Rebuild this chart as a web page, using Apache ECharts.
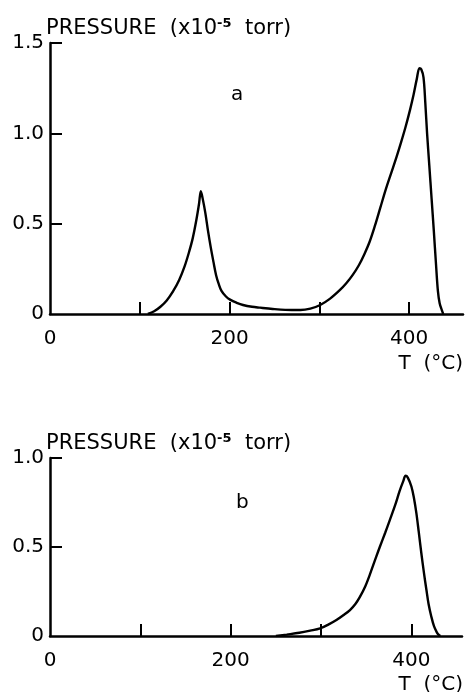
<!DOCTYPE html>
<html><head><meta charset="utf-8">
<script src="https://cdn.jsdelivr.net/npm/echarts@6/dist/echarts.min.js"></script>
<style>html,body{margin:0;padding:0;background:#fff}#c{width:466px;height:692px}</style>
</head><body><div id="c"></div>
<script>
// Panel a
const tempA = [109,116,123,130,137,144,150,155,159,163,166,168,170,173,176,179,182,185,188,191,196,201,208,215,225,234,248,262,279,290,301,312,323,330,337,344,350,356,362,368,374,380,386,391,396,401,405,408.5,411.5,413.5,416,418,420,422.5,425,427.5,430,432,434,436.5,438];
const presA = [0,0.015,0.04,0.075,0.125,0.19,0.265,0.345,0.42,0.52,0.61,0.68,0.64,0.56,0.46,0.37,0.29,0.215,0.165,0.128,0.097,0.078,0.062,0.05,0.04,0.035,0.028,0.023,0.022,0.03,0.05,0.085,0.133,0.17,0.215,0.27,0.33,0.4,0.49,0.59,0.69,0.78,0.87,0.95,1.035,1.13,1.215,1.30,1.36,1.355,1.31,1.17,1.0,0.82,0.64,0.46,0.27,0.13,0.06,0.02,0];
// Panel b
const tempB = [250,262,276,288,299,308,317,325,332,338,343,349,354,360,365,371,376,382,387,391,393.6,396,400,403,405.5,408,411,414,416.6,419,422,425,428,430,432];
const presB = [0,0.008,0.018,0.03,0.043,0.064,0.09,0.118,0.146,0.18,0.22,0.28,0.345,0.43,0.5,0.58,0.65,0.735,0.815,0.87,0.9,0.89,0.84,0.77,0.69,0.59,0.465,0.35,0.26,0.18,0.11,0.055,0.022,0.008,0];
const xTickValues = [100,200,300,400];
const xLabelValues = [0,200,400];
const yTicksA = [0,0.5,1.0,1.5];
const yTicksB = [0,0.5,1.0];
const yTitle = 'PRESSURE  (x10{sup|-5}  torr)';
const xTitle = 'T  (°C)';

const FONT = 'DejaVu Sans';
const BLACK = '#000';
function xAxis(gi, max){
  return {type:'value', gridIndex:gi, min:0, max:max, interval:100,
    axisLine:{show:true, onZero:false, lineStyle:{color:BLACK,width:2.5}},
    axisTick:{show:true, inside:true, length:12, customValues:xTickValues, lineStyle:{color:BLACK,width:2}},
    axisLabel:{customValues:xLabelValues, color:BLACK, fontFamily:FONT, fontSize:20, margin:15},
    splitLine:{show:false}};
}
function yAxis(gi, max, ticks){
  return {type:'value', gridIndex:gi, min:0, max:max, interval:0.5,
    axisLine:{show:true, lineStyle:{color:BLACK,width:2.5}},
    axisTick:{show:true, inside:true, length:12, customValues:ticks.filter(v=>v>0), lineStyle:{color:BLACK,width:2}},
    axisLabel:{customValues:ticks, color:BLACK, fontFamily:FONT, fontSize:20, margin:6,
      formatter:v=> v===0 ? '0' : v.toFixed(1)},
    splitLine:{show:false}};
}
const titleStyle = {fontFamily:FONT, fontSize:21, fontWeight:'normal', color:BLACK,
  rich:{sup:{fontFamily:FONT, fontSize:13, fontWeight:'bold', color:BLACK, padding:[0,0,11,0]}}};
const lblStyle = {fontFamily:FONT,fontSize:20,fontWeight:'normal',color:BLACK};
const chart = echarts.init(document.getElementById('c'), null, {renderer:'canvas'});
chart.setOption({
  animation:false,
  backgroundColor:'#fff',
  title:[
    {text:yTitle, left:46, top:17, textStyle:titleStyle, padding:0},
    {text:yTitle, left:46, top:432, textStyle:titleStyle, padding:0},
    {text:'a', left:231, top:85, textStyle:lblStyle, padding:0},
    {text:'b', left:236, top:493, textStyle:lblStyle, padding:0},
    {text:xTitle, right:3, top:354, textStyle:lblStyle, padding:0},
    {text:xTitle, right:3, top:675, textStyle:lblStyle, padding:0}
  ],
  grid:[
    {left:50, top:43, width:413, height:271},
    {left:50, top:458, width:412, height:178}
  ],
  xAxis:[xAxis(0,460), xAxis(1,456)],
  yAxis:[yAxis(0,1.5,yTicksA), yAxis(1,1.0,yTicksB)],
  series:[
    {type:'line', xAxisIndex:0, yAxisIndex:0, data:tempA.map((t,i)=>[t,presA[i]]),
      showSymbol:false, smooth:0.35, lineStyle:{color:BLACK,width:2.4}},
    {type:'line', xAxisIndex:1, yAxisIndex:1, data:tempB.map((t,i)=>[t,presB[i]]),
      showSymbol:false, smooth:0.35, lineStyle:{color:BLACK,width:2.4}}
  ]
});
</script></body></html>
